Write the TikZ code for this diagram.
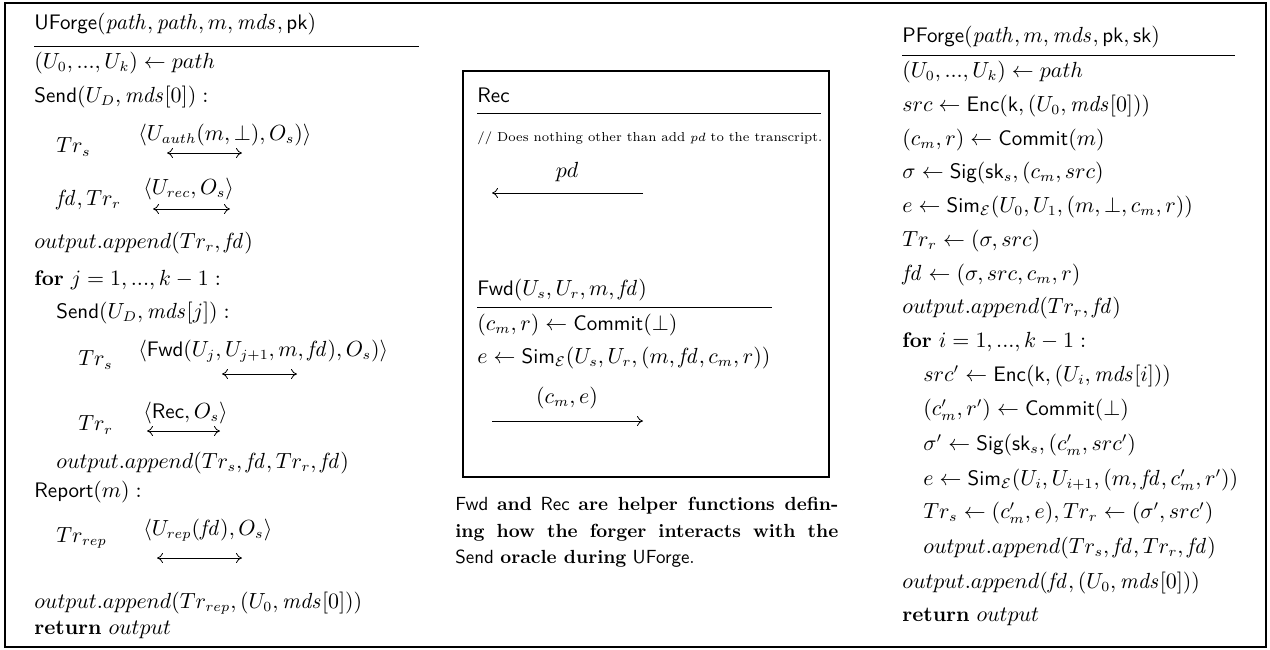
\documentclass[tikz,border=0pt]{standalone}
\usepackage{amsmath}
\usepackage{amssymb}
\usepackage{xcolor}
\usepackage{tikz}
\usetikzlibrary{arrows.meta}

\begin{document}
\begin{tikzpicture}
	[
	x=0.5pt, y=-0.5pt,
	every node/.style={
		inner sep=0pt,
		font=\fontsize{10.5}{12.6}\selectfont
	},
	line/.style={
		anchor=west
	},
	rulebar/.style={
		line width=0.5pt
	},
	frame/.style={
		line width=0.7pt
	},
	dblarrow/.style={
		{To[length=3pt,width=5pt]}-{To[length=3pt,width=5pt]},
		line width=0.4pt
	},
	arrow/.style={
		-{To[length=3pt,width=5pt]},
		line width=0.4pt
	}
	]
	
	\useasboundingbox (0,0) rectangle (1270,649);
	\draw[frame] (5,3) rectangle (1266,647);
	
	% UForge column
	\node[line] (uf_title) at (34,24)
	{$\textsf{UForge}(\mathit{path}, \mathit{path}, m, \mathit{mds}, \textsf{pk})$};
	\draw[rulebar] (34,46) -- (419,46);
	
	\node[line] (uf_path) at (34,63) {$(U_0, ..., U_k) \leftarrow path$};
	\node[line] (uf_send0) at (34,97) {$\textsf{Send}(U_D, \mathit{mds}[0]):$};
	
	\node[line] (uf_trs0) at (56,147) {$Tr_s$};
	\node[line] (uf_auth) at (138,135) {$\langle U_{auth}(m, \bot), O_s)\rangle$};
	\coordinate (auth_l) at (167,153);
	\coordinate (auth_r) at (242,153);
	
	\node[line] (uf_fdtr) at (56,200) {$\mathit{fd}, Tr_r$};
	\node[line] (uf_rec) at (143,189) {$\langle U_{rec}, O_s\rangle$};
	\coordinate (rec_l) at (153,209);
	\coordinate (rec_r) at (230,209);
	
	\node[line] (uf_app1) at (34,243) {$output.append(Tr_r, \mathit{fd})$};
	\node[line] (uf_for) at (34,280) {\textbf{for} $j = 1, ..., k-1:$};
	\node[line] (uf_sendj) at (56,313) {$\textsf{Send}(U_D, \mathit{mds}[j]):$};
	
	\node[line] (uf_trs1) at (78,360) {$Tr_s$};
	\node[line] (uf_fwd) at (138,351) {$\langle \textsf{Fwd}(U_j, U_{j+1}, m, \mathit{fd}), O_s)\rangle$};
	\coordinate (fwd_l) at (222,374);
	\coordinate (fwd_r) at (297,374);
	
	\node[line] (uf_trr1) at (78,425) {$Tr_r$};
	\node[line] (uf_recmsg) at (143,413) {$\langle \textsf{Rec}, O_s\rangle$};
	\coordinate (recm_l) at (147,431);
	\coordinate (recm_r) at (220,431);
	
	\node[line] (uf_app2) at (56,463) {$output.append(Tr_s, \mathit{fd}, Tr_r, \mathit{fd})$};
	\node[line] (uf_report) at (34,492) {$\textsf{Report}(m):$};
	
	\node[line] (uf_trrep) at (56,538) {$Tr_{rep}$};
	\node[line] (uf_rep) at (143,530) {$\langle U_{rep}(\mathit{fd}), O_s\rangle$};
	\coordinate (rep_l) at (157,558);
	\coordinate (rep_r) at (242,558);
	
	\node[line] (uf_app3) at (34,603) {$output.append(Tr_{rep}, (U_0, \mathit{mds}[0]))$};
	\node[line] (uf_ret) at (34,630) {\textbf{return} $output$};
	
	\draw[dblarrow] (auth_l) -- (auth_r);
	\draw[dblarrow] (rec_l) -- (rec_r);
	\draw[dblarrow] (fwd_l) -- (fwd_r);
	\draw[dblarrow] (recm_l) -- (recm_r);
	\draw[dblarrow] (rep_l) -- (rep_r);
	
	% Helper box
	\draw[frame] (463,71) rectangle (829,477);
	
	\node[line] (rec_title) at (477,95) {\textsf{Rec}};
	\draw[rulebar] (477,113) -- (821,113);
	\node[line, font=\fontsize{6.5}{8}\selectfont] (rec_note) at (477,138)
	{// Does nothing other than add $pd$ to the transcript.};
	\node (pd_lbl) at (567,172) {$pd$};
	\coordinate (pd_r) at (643,193);
	\coordinate (pd_l) at (492,193);
	\draw[arrow] (pd_r) -- (pd_l);
	
	\node[line] (fwd_title) at (477,290) {$\textsf{Fwd}(U_s, U_r, m, \mathit{fd})$};
	\draw[rulebar] (477,307) -- (772,307);
	\node[line] (fwd_commit) at (477,325) {$(c_m, r) \leftarrow \textsf{Commit}(\bot)$};
	\node[line] (fwd_sim) at (477,358)
	{$e \leftarrow \textsf{Sim}_{\mathcal{E}}(U_s, U_r, (m, \mathit{fd}, c_m, r))$};
	\node (ce_lbl) at (567,398) {$(c_m, e)$};
	\coordinate (ce_l) at (492,421);
	\coordinate (ce_r) at (643,421);
	\draw[arrow] (ce_l) -- (ce_r);
	
	% Caption
	\node[anchor=north west, text width=191.5pt, align=justify,
	font=\fontsize{9.5}{13.25}\selectfont] (caption) at (455,497)
	{\textsf{Fwd} \textbf{and} \textsf{Rec} \textbf{are helper functions defin-}\linebreak
		\textbf{ing how the forger interacts with the}\linebreak
		\textsf{Send} \textbf{oracle during} \textsf{UForge}.};
	
	% PForge column
	\node[line] (pf_title) at (902,37)
	{$\textsf{PForge}(\mathit{path}, m, \mathit{mds}, \textsf{pk}, \textsf{sk})$};
	\draw[rulebar] (902,55) -- (1235,55);
	
	\node[line] (pf_path) at (902,72) {$(U_0, ..., U_k) \leftarrow path$};
	\node[line] (pf_src) at (902,106) {$src \leftarrow \textsf{Enc}(\textsf{k}, (U_0, \mathit{mds}[0]))$};
	\node[line] (pf_commit) at (902,140) {$(c_m, r) \leftarrow \textsf{Commit}(m)$};
	\node[line] (pf_sig) at (902,173) {$\sigma \leftarrow \textsf{Sig}(\textsf{sk}_s, (c_m, src)$};
	\node[line] (pf_sim) at (902,207)
	{$e \leftarrow \textsf{Sim}_{\mathcal{E}}(U_0, U_1, (m, \bot, c_m, r))$};
	\node[line] (pf_trr) at (902,241) {$Tr_r \leftarrow (\sigma, src)$};
	\node[line] (pf_fd) at (902,275) {$\mathit{fd} \leftarrow (\sigma, src, c_m, r)$};
	\node[line] (pf_app1) at (902,308) {$output.append(Tr_r, \mathit{fd})$};
	\node[line] (pf_for) at (902,342) {\textbf{for} $i = 1, ..., k-1:$};
	
	\node[line] (pf_src2) at (923,376)
	{$src' \leftarrow \textsf{Enc}(\textsf{k}, (U_i, \mathit{mds}[i]))$};
	\node[line] (pf_commit2) at (923,410) {$(c'_m, r') \leftarrow \textsf{Commit}(\bot)$};
	\node[line] (pf_sig2) at (923,445)
	{$\sigma' \leftarrow \textsf{Sig}(\textsf{sk}_s, (c'_m, src')$};
	\node[line] (pf_sim2) at (923,480)
	{$e \leftarrow \textsf{Sim}_{\mathcal{E}}(U_i, U_{i+1}, (m, \mathit{fd}, c'_m, r'))$};
	\node[line] (pf_tr2) at (923,513)
	{$Tr_s \leftarrow (c'_m, e), Tr_r \leftarrow (\sigma', src')$};
	\node[line] (pf_app2) at (923,548) {$output.append(Tr_s, \mathit{fd}, Tr_r, \mathit{fd})$};
	
	\node[line] (pf_app3) at (902,583) {$output.append(\mathit{fd}, (U_0, \mathit{mds}[0]))$};
	\node[line] (pf_ret) at (902,617) {\textbf{return} $output$};
	
\end{tikzpicture}
\end{document}
